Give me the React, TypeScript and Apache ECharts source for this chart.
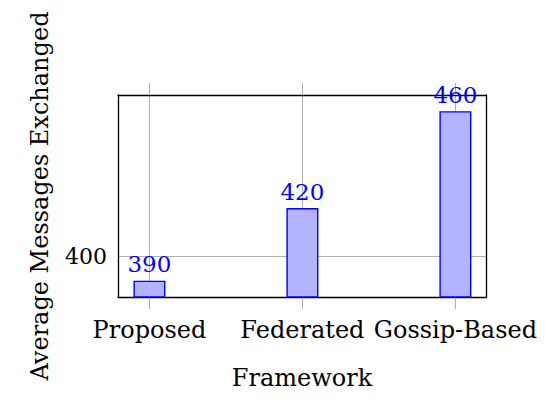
import React, { useEffect, useRef } from "react";
import * as echarts from "echarts";

const categories = ["Proposed", "Federated", "Gossip-Based"];
const messages = [390, 420, 460];
const yTicks = [400];
const xPositions = [0, 1, 2];

const FONT = "DejaVu Serif";

export default function App() {
  const ref = useRef<HTMLDivElement>(null);
  useEffect(() => {
    document.body.style.margin = "0";
    if (!ref.current) return;
    const chart = echarts.init(ref.current, undefined, { renderer: "svg" });
    const xMin = -0.2055;
    const xMax = 2.2;
    const yMin = 383.25;
    const yMax = 466.7;
    chart.setOption({
      animation: false,
      backgroundColor: "#ffffff",
      grid: { left: 118, right: 64, top: 95, bottom: 105, containLabel: false },
      xAxis: [
        {
          type: "value",
          position: "bottom",
          min: xMin,
          max: xMax,
          name: "Framework",
          nameLocation: "middle",
          nameGap: 69,
          nameTextStyle: { fontFamily: FONT, fontSize: 24, color: "#000" },
          axisLine: { show: true, onZero: false, lineStyle: { color: "#000", width: 1.3 } },
          axisTick: { show: true, customValues: xPositions, length: 12, lineStyle: { color: "#b0b0b0", width: 1 } },
          axisLabel: {
            customValues: xPositions,
            margin: 21,
            fontFamily: FONT,
            fontSize: 24,
            color: "#000",
            formatter: (v: number) => categories[Math.round(v)] ?? "",
          },
          splitLine: { show: true, lineStyle: { color: "#b0b0b0", width: 1 } },
        },
        {
          type: "value",
          position: "top",
          min: xMin,
          max: xMax,
          axisLine: { show: true, onZero: false, lineStyle: { color: "#000", width: 1.3 } },
          axisTick: { show: true, customValues: xPositions, length: 12, lineStyle: { color: "#b0b0b0", width: 1 } },
          axisLabel: { show: false },
          splitLine: { show: false },
        },
      ],
      yAxis: [
        {
          type: "value",
          position: "left",
          min: yMin,
          max: yMax,
          name: "Average Messages Exchanged",
          nameLocation: "middle",
          nameGap: 66,
          nameTextStyle: { fontFamily: FONT, fontSize: 24, color: "#000" },
          axisLine: { show: true, onZero: false, lineStyle: { color: "#000", width: 1.3 } },
          axisTick: { show: false, customValues: yTicks },
          axisLabel: { customValues: yTicks, margin: 11, fontFamily: FONT, fontSize: 22, color: "#000" },
          splitLine: { show: true, lineStyle: { color: "#b0b0b0", width: 1 } },
        },
        {
          type: "value",
          position: "right",
          min: yMin,
          max: yMax,
          axisLine: { show: true, onZero: false, lineStyle: { color: "#000", width: 1.3 } },
          axisTick: { show: false },
          axisLabel: { show: false },
          splitLine: { show: false },
        },
      ],
      series: [
        {
          type: "bar",
          xAxisIndex: 0,
          yAxisIndex: 0,
          barWidth: 32,
          data: xPositions.map((x, i) => [x, messages[i]]),
          itemStyle: { color: "#b3b3ff", borderColor: "#0000ff", borderWidth: 1.4 },
          label: {
            show: true,
            position: "top",
            distance: 5,
            fontFamily: FONT,
            fontSize: 23,
            color: "#0000ff",
            formatter: (p: any) => String(p.value[1]),
          },
        },
      ],
    });
    return () => chart.dispose();
  }, []);
  return <div ref={ref} style={{ width: 550, height: 402 }} />;
}
